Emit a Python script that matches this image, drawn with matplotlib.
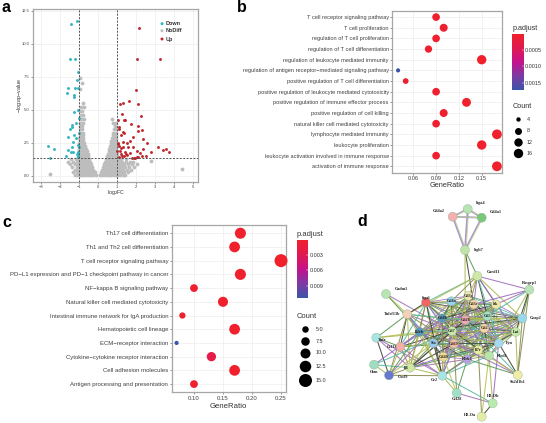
import itertools
import numpy as np
import matplotlib
matplotlib.use("Agg")
import matplotlib.pyplot as plt
from matplotlib.colors import LinearSegmentedColormap, Normalize

plt.rcParams['font.family'] = ['Liberation Sans', 'DejaVu Sans']

W, H = 546, 423

# panel a: volcano
down_x = [-1.43, -1.08, -1.49, -1.19, -1.05, -1.12, -1.59, -1.19, -1.05, -1.64, -1.26, -1.26, -1.03, -1.26, -1.01, -1.35, -1.14, -1.36, -1.49, -1.26, -1.57, -1.17, -1.01, -1.33, -2.6, -2.33, -1.35, -1.05, -1.02, -1.57, -1.42, -1.3, -1.05, -1.68, -1.08, -1.04, -2.5, -1.06, -1.03]
down_y = [11.5, 11.75, 8.84, 8.84, 7.85, 7.24, 6.66, 6.66, 6.66, 6.25, 6.1, 5.97, 4.96, 4.8, 4.33, 3.85, 3.97, 3.7, 3.54, 3.1, 2.94, 2.86, 3.2, 2.56, 2.25, 2.03, 2.18, 2.33, 2.18, 1.95, 1.8, 1.8, 1.8, 1.49, 1.62, 1.5, 1.3, 1.7, 1.4]
up_x = [2.13, 2.05, 3.24, 1.99, 1.63, 1.31, 1.15, 2.1, 2.26, 1.24, 1.05, 1.36, 1.43, 1.73, 1.1, 1.12, 2.1, 2.1, 1.82, 2.33, 1.31, 1.36, 1.2, 2.36, 2.57, 1.31, 1.52, 1.68, 1.05, 1.1, 1.2, 1.02, 1.15, 1.3, 1.42, 1.6, 1.85, 2.05, 2.2, 2.37, 2.8, 3.15, 3.4, 3.55, 3.75, 1.05, 1.22, 1.35, 1.5, 1.7, 1.9, 2.1, 2.3, 2.5, 1.08, 1.28, 1.45, 1.8, 1.95, 2.02]
up_y = [11.2, 8.84, 8.84, 6.46, 5.67, 5.52, 5.44, 5.44, 4.5, 4.66, 4.2, 4.25, 4.18, 3.92, 3.72, 3.55, 3.77, 3.4, 2.9, 3.45, 3.34, 3.2, 3.05, 2.75, 2.5, 2.55, 2.48, 2.6, 2.4, 2.25, 2.1, 1.9, 1.85, 2.2, 1.75, 2.15, 2.2, 1.9, 1.7, 2.0, 1.8, 2.2, 1.95, 2.05, 1.75, 2.5, 1.65, 1.5, 1.55, 1.7, 1.35, 1.4, 1.45, 1.5, 1.4, 1.5, 1.6, 1.35, 1.33, 1.42]
grey_rows = [
    (0.05, [-1.2, -1.08, -.96, -.84, -.72, -.6, -.48, -.36, -.24, -.12, .1, .22, .34, .46, .58, .7, .82, .94, 1.06, 1.18, 1.3, 1.42]),
    (0.25, [-1.3, -1.12, -1, -.88, -.76, -.64, -.52, -.4, -.28, -.17, .16, .28, .4, .52, .64, .76, .88, 1, 1.12, 1.24, 1.38, 1.55]),
    (0.45, [-1.22, -1.06, -.94, -.82, -.7, -.58, -.46, -.34, -.24, .22, .34, .46, .58, .7, .82, .94, 1.06, 1.18, 1.32, 1.5, 1.72]),
    (0.65, [-1.35, -1.1, -.98, -.86, -.74, -.62, -.5, -.38, -.3, .28, .4, .52, .64, .76, .88, 1, 1.12, 1.26, 1.42, 1.62, 1.9]),
    (0.85, [-1.45, -1.2, -1.03, -.91, -.79, -.67, -.55, -.43, -.36, .34, .46, .58, .7, .82, .94, 1.06, 1.2, 1.36, 1.55, 1.78, 2.05]),
    (1.05, [-1.6, -1.3, -1.1, -.98, -.86, -.74, -.62, -.5, -.41, .38, .5, .62, .74, .86, .98, 1.1, 1.26, 1.48, 1.7, 1.85]),
    (1.25, [-1.42, -1.15, -1, -.88, -.76, -.64, -.52, -.45, .44, .56, .68, .8, .92, 1.05, 1.2, 1.45]),
    (1.45, [-.98, -.86, -.74, -.62, -.51, .47, .59, .71, .83, .95]),
    (1.65, [-.98, -.86, -.74, -.62, -.54, .52, .64, .76, .88, .98]),
    (1.85, [-.98, -.87, -.76, -.65, -.58, .56, .68, .8, .92]),
    (2.05, [-.98, -.87, -.76, -.66, -.61, .6, .72, .84, .96]),
    (2.25, [-.98, -.88, -.78, -.68, .65, .77, .89, .98]),
    (2.45, [-.98, -.88, -.79, -.71, .68, .8, .92]),
    (2.65, [-.97, -.87, -.77, .7, .84, .97]),
    (2.85, [-.98, -.89, -.79, .73, .86, .96]),
    (3.05, [-.96, -.87, -.8, .78, .92]),
    (3.25, [-.97, -.88, -.8, .8, .95]),
    (3.5, [-.95, -.85, .85, .97]),
    (3.75, [-.96, -.82, .9]),
    (4.0, [-.92, -.8, .78, .95]),
    (4.3, [-.95, -.84, -.76, .72]),
    (4.6, [-.9, -.78]),
    (4.9, [-.93, -.82]),
    (5.2, [-.88, -.73]),
    (5.5, [-.8]),
    (7.0, [-.85]),
    (7.4, [-.95]),
    (6.6, [-.95]),
    (0.12, [-2.5]),
    (0.5, [4.4]),
    (1.1, [2.8]),
]

# panel b: GO
go_terms = ['activation of immune response', 'leukocyte activation involved in immune response',
            'leukocyte proliferation', 'lymphocyte mediated immunity',
            'natural killer cell mediated cytotoxicity', 'positive regulation of cell killing',
            'positive regulation of immune effector process',
            'positive regulation of leukocyte mediated cytotoxicity',
            'positive regulation of T cell differentiation',
            'regulation of antigen receptor\u2212mediated signaling pathway',
            'regulation of leukocyte mediated immunity', 'regulation of T cell differentiation',
            'regulation of T cell proliferation', 'T cell proliferation',
            'T cell receptor signaling pathway']
go_ratio = [0.17, 0.09, 0.15, 0.17, 0.09, 0.10, 0.13, 0.09, 0.05, 0.04, 0.15, 0.08, 0.09, 0.10, 0.09]
go_count = [17, 9, 15, 17, 9, 10, 13, 9, 5, 4, 15, 8, 9, 10, 9]
go_padj = [0.00002, 0.00005, 0.00002, 0.00002, 0.00005, 0.00004, 0.00002, 0.00005, 0.0001, 0.00172, 0.00002, 0.00004, 0.00005, 0.00003, 0.00004]

# panel c: KEGG
kegg_terms = ['Antigen processing and presentation', 'Cell adhesion molecules',
              'Cytokine\u2212cytokine receptor interaction', 'ECM\u2212receptor interaction',
              'Hematopoietic cell lineage', 'Intestinal immune network for IgA production',
              'Natural killer cell mediated cytotoxicity', 'NF\u2212kappa B signaling pathway',
              'PD\u2212L1 expression and PD\u22121 checkpoint pathway in cancer',
              'T cell receptor signaling pathway', 'Th1 and Th2 cell differentiation',
              'Th17 cell differentiation']
kegg_ratio = [0.10, 0.17, 0.13, 0.07, 0.17, 0.08, 0.15, 0.10, 0.18, 0.25, 0.17, 0.18]
kegg_count = [10, 17, 13, 7, 17, 8, 15, 10, 18, 25, 17, 18]
kegg_padj = [0.0003, 0.0001, 0.0022, 0.0114, 0.0001, 0.0003, 0.0001, 0.0003, 0.0001, 0.0001, 0.0001, 0.0001]

# panel d: network (positions on the picture)
node_names = ['Itga4', 'Cd4a2', 'Cd4a1', 'Itgb7', 'Card11', 'Rasgrp1', 'Cadm1', 'Itgal', 'Cd8a', 'Cd3g', 'Cd3e',
              'Itk', 'Cd5', 'Tnfsf13b', 'Cd8b', 'Cd28', 'Grap2', 'Lat', 'Cd2', 'Cd7', 'Il2rb', 'Tnfr',
              'Ccl13', 'Sla', 'Cd69', 'Fyn', 'Il7r', 'Klrd1', 'Klrk1', 'Cd40', 'Il6', 'Osm', 'Cxcl9', 'Cr2',
              'Sh2d1b1', 'Ccl28', 'H2-Ob', 'H2-Oa']
node_x = [467.7, 452.7, 481.7, 465, 477.3, 529.3, 386, 426, 451.3, 468.3, 473.7, 496, 487.3, 407.3, 442.3, 465.3,
          522.3, 515.7, 484.3, 452, 419.7, 376.3, 400.3, 433.3, 454, 498.7, 478.3, 489, 467.3, 443.3, 410, 374,
          389, 442.3, 517.7, 456.7, 492.7, 481.7]
node_y = [209, 216.7, 217.7, 250, 276, 289.7, 294, 302.3, 301.3, 296, 304.3, 304.3, 316, 314.3, 318.3, 320, 318.3,
          332, 328.3, 331, 332, 337.7, 346.7, 343.3, 343.7, 343.3, 350, 355.7, 359.3, 356.7, 367.7, 364.7, 375.3,
          375.7, 375, 393, 403.3, 416.7]
node_colors = ['#b8e4b4', '#f4b0b0', '#78c878', '#c0e4a8', '#cfe8a8', '#b8e4b8', '#b8e4b4', '#f06464', '#98d4ec',
               '#ece4b0', '#f4d4a8', '#f0e8a8', '#a8e0c4', '#f4d0b8', '#5c98b8', '#f0a8b8', '#98d8ec', '#c8e8a8',
               '#f4d4a8', '#c8e8a8', '#5c98b8', '#a8e4e4', '#f4b0a8', '#98c8ec', '#f4b8a8', '#a8d8f0', '#e8eca0',
               '#b8e4a8', '#b8a0e4', '#f0d890', '#d0e8a0', '#a0dcc0', '#6878d0', '#a8e4e4', '#f0eca8', '#a0e0c8',
               '#b8ecac', '#e4eca8']
label_dx = [8, -8, 8, 9, 9, 0, 9, 0, 0, 0, 0, 0, 0, -7, 0, 0, 7, 0, 0, 0, 0, 2, -3, 0, 0, 7, 0, 8, 0, 0, -1, 0, 9, -4, 0, 0, 0, -6]
label_dy = [-6, -6, -6, 0, -4, -7, -5, -4, 0, 0, 0, 0, 0, 0, 0, 0, 0, 0, 0, 0, 0, 2, 0, 0, 0, 0, 0, 0, 0, 0, 0, 7, 2, 4, 7, 6, -7, -2]
core_nodes = ['Itgal', 'Cd8a', 'Cd3g', 'Cd3e', 'Itk', 'Cd5', 'Cd8b', 'Cd28', 'Grap2', 'Lat', 'Cd2', 'Cd7', 'Il2rb',
              'Sla', 'Cd69', 'Fyn', 'Il7r', 'Klrd1', 'Klrk1', 'Cd40']
top_nodes = ['Itga4', 'Cd4a2', 'Cd4a1', 'Itgb7']
spokes = {
    'Itgb7': ['Card11', 'Cd3e', 'Cd28'],
    'Card11': ['Rasgrp1', 'Itgal', 'Cd8a', 'Cd3g', 'Cd3e', 'Itk', 'Cd5', 'Grap2', 'Lat', 'Fyn', 'Cd28', 'Tnfsf13b'],
    'Rasgrp1': ['Itk', 'Grap2', 'Lat', 'Fyn', 'Cd3e', 'Cd5', 'Sh2d1b1'],
    'Cadm1': ['Tnfsf13b', 'Cd7', 'Cd40'],
    'Tnfsf13b': ['Itgal', 'Cd8b', 'Il2rb', 'Sla', 'Cd69', 'Il6', 'Cd7', 'Tnfr', 'Ccl13', 'Cr2', 'Cd40', 'Cd28', 'Cxcl9'],
    'Tnfr': ['Il2rb', 'Il6', 'Ccl13', 'Cxcl9', 'Cd7', 'Cr2'],
    'Ccl13': ['Il2rb', 'Il6', 'Cxcl9', 'Cr2', 'Cd69', 'Cd7', 'Sla', 'Cd8b', 'Itgal'],
    'Il6': ['Itgal', 'Il2rb', 'Cd7', 'Sla', 'Cd69', 'Cr2', 'Cd40', 'Osm', 'Cxcl9', 'Cd8b', 'Klrk1', 'Il7r', 'Cd28'],
    'Osm': ['Cxcl9', 'Il2rb', 'Cd7'],
    'Cxcl9': ['Cr2', 'Sla', 'Cd8b', 'Il2rb'],
    'Cr2': ['Sla', 'Il2rb', 'Cd7', 'Cd69', 'Cd8b', 'Cd40', 'Klrk1', 'Il7r', 'Itgal', 'Ccl28', 'Cd28', 'Klrd1'],
    'Ccl28': ['Cd69', 'Cd40', 'H2-Ob', 'Klrk1'],
    'H2-Ob': ['H2-Oa', 'Klrd1', 'Fyn', 'Cr2'],
    'H2-Oa': ['Il7r', 'Klrd1'],
    'Sh2d1b1': ['Klrd1', 'Klrk1', 'Fyn', 'Lat', 'Cd69', 'Cd28', 'Grap2', 'Il7r'],
}
edge_colors = ['#a8b850', '#9a6cc0', '#58b8a0', '#8a8a50', '#b8c050', '#a070b0', '#5a9a50', '#404030']

red_blue = LinearSegmentedColormap.from_list('padj', ['#f0202c', '#e01a50', '#c4128c', '#7c3aa4', '#3a55a8'])
grey_text = '#404040'
border = '#a6a6a6'
grid = '#ededed'


def px_axes(left, top, right, bottom):
    return fig.add_axes([left / W, 1 - bottom / H, (right - left) / W, (bottom - top) / H])


def px_text(x, y, s, **kw):
    fig.text(x / W, 1 - y / H, s, **kw)


def theme_bw(ax):
    ax.set_axisbelow(True)
    ax.grid(True, which='major', color=grid, lw=0.5)
    for s in ax.spines.values():
        s.set_color(border)
        s.set_linewidth(0.9)


def pts(diam_px):
    return (np.asarray(diam_px) * 0.72) ** 2


def dot_plot(ax, terms, ratio, count, padj, norm, d_min, d_span, fsize):
    y = np.arange(1, len(terms) + 1)
    t = (np.array(count) - min(count)) / (max(count) - min(count))
    sc = ax.scatter(ratio, y, s=pts(d_min + d_span * np.sqrt(t)), c=padj, cmap=red_blue, norm=norm, lw=0, zorder=3, clip_on=False)
    ax.set_yticks(y)
    ax.set_yticklabels(terms, fontsize=fsize, color=grey_text)
    ax.set_ylim(0.4, len(terms) + 0.6)
    ax.tick_params(axis='both', length=1.5, width=0.4, color='#444444', pad=1)
    ax.tick_params(axis='x', labelsize=fsize, labelcolor=grey_text)
    theme_bw(ax)
    return sc


fig = plt.figure(figsize=(W / 100, H / 100), dpi=100)

# a
ax = px_axes(33, 9.5, 197.5, 182)
grey_x = [x for y, xs in grey_rows for x in xs]
grey_y = [y for y, xs in grey_rows for x in xs]
ax.scatter(grey_x, grey_y, s=pts(3.8), c='#bdbdbd', lw=0, zorder=2)
ax.scatter(down_x, down_y, s=pts(2.9), c='#2fb5c0', lw=0, zorder=3)
ax.scatter(up_x, up_y, s=pts(2.9), c='#c0272d', lw=0, zorder=3)
ax.axvline(-1, color='#555555', lw=0.7, ls=(0, (2, 1.5)), zorder=4)
ax.axvline(1, color='#555555', lw=0.7, ls=(0, (2, 1.5)), zorder=4)
ax.axhline(1.3, color='#555555', lw=0.7, ls=(0, (2, 1.5)), zorder=4)
ax.set_xlim(-3.41, 5.22)
ax.set_ylim(-0.49, 12.6)
ax.set_xticks(range(-3, 6))
ax.set_xticklabels(['\u22123', '\u22122', '\u22121', '0', '1', '2', '3', '4', '5'])
ax.set_yticks([0, 2.5, 5, 7.5, 10, 12.5])
ax.set_yticklabels(['0.0', '2.5', '5.0', '7.5', '10.0', '12.5'])
ax.tick_params(axis='both', length=1.5, width=0.4, labelsize=3, labelcolor=grey_text, color='#444444', pad=1)
theme_bw(ax)
px_text(115.7, 192.7, 'log$_2$FC', fontsize=3.8, color='#333333', ha='center', va='center')
px_text(19, 95, '\u2212log$_{10}$p\u2212value', fontsize=3.8, color='#333333', ha='center', va='center', rotation=90)
for yy, lab in [(23.7, 'Down'), (30.7, 'NoDiff'), (39, 'Up')]:
    px_text(165.7, yy, lab, fontsize=4, fontweight='bold', color='#333333', ha='left', va='center')
leg_x = (np.array([162, 162, 162]) - 33) / (197.5 - 33)
leg_y = 1 - (np.array([23.7, 30.7, 39]) - 9.5) / (182 - 9.5)
ax.scatter(leg_x, leg_y, s=pts(3), c=['#2fb5c0', '#bdbdbd', '#c0272d'], lw=0, transform=ax.transAxes, zorder=5)

# b
ax = px_axes(392.3, 10.7, 501.7, 172.7)
norm_b = Normalize(0.00001, 0.00172)
sc_b = dot_plot(ax, go_terms, go_ratio, go_count, go_padj, norm_b, 4.2, 5.6, 4.1)
ax.set_xlim(0.0324, 0.1763)
ax.set_xticks([0.06, 0.09, 0.12, 0.15])
ax.set_xticklabels(['0.06', '0.09', '0.12', '0.15'])
px_text(447, 185, 'GeneRatio', fontsize=5.3, color='#333333', ha='center', va='center')
px_text(512.3, 28, 'p.adjust', fontsize=5.2, color='#333333', ha='left', va='center')
cax = px_axes(512.3, 34, 523.7, 90)
cb = fig.colorbar(sc_b, cax=cax)
cb.ax.invert_yaxis()
cb.outline.set_visible(False)
cb.set_ticks([0.0005, 0.001, 0.0015])
cb.set_ticklabels(['0.0005', '0.0010', '0.0015'])
cb.ax.tick_params(length=1.5, width=0.3, color='white', labelsize=3.9, labelcolor='#333333', pad=1, direction='in')
px_text(512.3, 107, 'Count', fontsize=5.2, color='#333333', ha='left', va='center')
lax = px_axes(505, 110, 546, 162)
lax.set_xlim(505, 546)
lax.set_ylim(162, 110)
lax.axis('off')
for yy, d, lab in [(119.3, 4.4, '4'), (130.7, 7, '8'), (142, 8.4, '12'), (153, 9.4, '16')]:
    lax.scatter([518.3], [yy], s=pts(d), c='black', lw=0)
    lax.text(526.7, yy, lab, fontsize=3.9, color='#333333', ha='left', va='center')

# c
ax = px_axes(171.7, 225, 286, 392.3)
norm_c = Normalize(0.0001, 0.0114)
sc_c = dot_plot(ax, kegg_terms, kegg_ratio, kegg_count, kegg_padj, norm_c, 4.2, 8.8, 4.3)
ax.set_xlim(0.0616, 0.2586)
ax.set_xticks([0.10, 0.15, 0.20, 0.25])
ax.set_xticklabels(['0.10', '0.15', '0.20', '0.25'])
px_text(228.5, 406.7, 'GeneRatio', fontsize=5.6, color='#333333', ha='center', va='center')
px_text(296.7, 234, 'p.adjust', fontsize=5.4, color='#333333', ha='left', va='center')
cax = px_axes(296.7, 240, 308.3, 298.3)
cb = fig.colorbar(sc_c, cax=cax)
cb.ax.invert_yaxis()
cb.outline.set_visible(False)
cb.set_ticks([0.003, 0.006, 0.009])
cb.set_ticklabels(['0.003', '0.006', '0.009'])
cb.ax.tick_params(length=1.5, width=0.3, color='white', labelsize=3.9, labelcolor='#333333', pad=1, direction='in')
px_text(296.7, 316.7, 'Count', fontsize=5.4, color='#333333', ha='left', va='center')
lax = px_axes(290, 320, 340, 392)
lax.set_xlim(290, 340)
lax.set_ylim(392, 320)
lax.axis('off')
for yy, d, lab in [(329.3, 6.5, '5.0'), (341, 8.5, '7.5'), (352.7, 10, '10.0'), (366, 11.5, '12.5'), (380.3, 13, '15.0')]:
    lax.scatter([305], [yy], s=pts(d), c='black', lw=0)
    lax.text(316, yy, lab, fontsize=3.9, color='#333333', ha='left', va='center')

# d
ax = px_axes(350, 195, 546, 423)
ax.set_xlim(350, 546)
ax.set_ylim(423, 195)
ax.axis('off')
pos = dict(zip(node_names, zip(node_x, node_y)))
edges = list(itertools.combinations(core_nodes, 2))
n_core = len(edges)
for a, bs in spokes.items():
    edges += [(a, b) for b in bs]
for i, (a, b) in enumerate(edges):
    ax.plot([pos[a][0], pos[b][0]], [pos[a][1], pos[b][1]], color=edge_colors[i % len(edge_colors)],
            lw=0.6 if i < n_core else 0.75, alpha=0.9, zorder=1)
for a, b in itertools.combinations(top_nodes, 2):
    ax.plot([pos[a][0], pos[b][0]], [pos[a][1], pos[b][1]], color='#a888cc', lw=1.3, alpha=0.9, zorder=1)
    ax.plot([pos[a][0] + 1, pos[b][0] + 1], [pos[a][1], pos[b][1]], color='#b8d890', lw=0.7, alpha=0.9, zorder=1)
ax.scatter(node_x, node_y, s=pts(9), c=node_colors, edgecolors='#88aa88', linewidths=0.25, zorder=3)
for n, x, y, dx, dy in zip(node_names, node_x, node_y, label_dx, label_dy):
    ha = 'left' if dx > 0 else ('right' if dx < 0 else 'center')
    ax.text(x + dx, y + dy, n, fontsize=3.1, fontweight='bold', family='Liberation Serif', color='#222222', ha=ha, va='center', zorder=4)

# panel letters
for x, y, s in [(2, 8, 'a'), (237, 8, 'b'), (2, 222, 'c'), (357, 221, 'd')]:
    px_text(x, y, s, fontsize=11.5, fontweight='bold', color='black', ha='left', va='center')

fig.savefig('out.png', dpi=100)
